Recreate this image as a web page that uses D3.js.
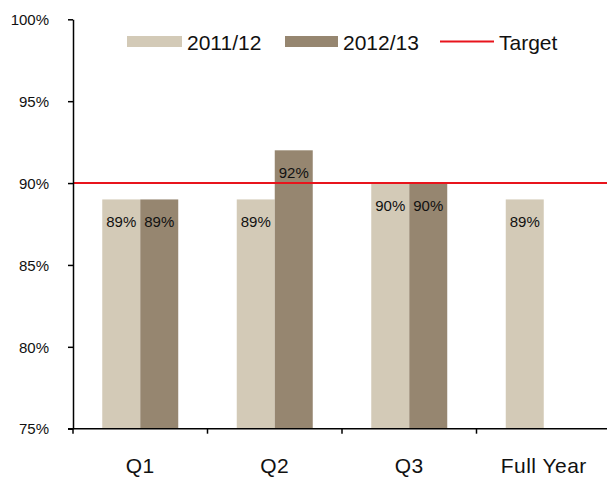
<!DOCTYPE html>
<html>
<head>
<meta charset="utf-8">
<script src="https://cdn.jsdelivr.net/npm/d3@7"></script>
<style>
  html, body { margin: 0; padding: 0; background: #fff; }
  svg { display: block; font-family: "Liberation Sans", Arial, sans-serif; }
</style>
</head>
<body>
<svg id="chart" width="607" height="477"></svg>
<script>
// Quarterly performance against a 90% target
const categories = ["Q1", "Q2", "Q3", "Full Year"];
const seriesNames = ["2011/12", "2012/13"];
const values2011 = [89, 89, 90, 89];
const values2012 = [89, 92, 90, null];
const target = 90;
const yTicks = [75, 80, 85, 90, 95, 100];
const colors = ["#d3cab7", "#968670"];

const svg = d3.select("#chart");
const plotLeft = 73, plotRight = 611, plotTop = 19.3, plotBottom = 428.7;

const x = d3.scaleBand().domain(categories).range([plotLeft, plotRight]).padding(0);
const groupFrac = 0.565;
const gap = x.bandwidth() * (1 - groupFrac) / 2;
const x1 = d3.scaleBand().domain(seriesNames).range([gap, x.bandwidth() - gap]).padding(0);
const y = d3.scaleLinear().domain([75, 100]).range([plotBottom, plotTop]);

const rows = categories.map((c, i) => ({
  cat: c,
  vals: [
    { s: seriesNames[0], v: values2011[i] },
    { s: seriesNames[1], v: values2012[i] }
  ].filter(d => d.v != null)
}));

// Bars
const groups = svg.append("g").selectAll("g").data(rows).join("g")
  .attr("transform", d => `translate(${x(d.cat)},0)`);

groups.selectAll("rect").data(d => d.vals).join("rect")
  .attr("x", d => x1(d.s))
  .attr("width", x1.bandwidth())
  .attr("y", d => y(d.v))
  .attr("height", d => y(75) - y(d.v))
  .attr("fill", d => colors[seriesNames.indexOf(d.s)]);

// Target line
svg.append("line")
  .attr("x1", plotLeft).attr("x2", 607)
  .attr("y1", y(target)).attr("y2", y(target))
  .attr("stroke", "#e8141c").attr("stroke-width", 2);

// Value labels inside the top of each bar
groups.selectAll("text").data(d => d.vals).join("text")
  .attr("x", d => x1(d.s) + x1.bandwidth() / 2)
  .attr("y", d => y(d.v) + 28)
  .attr("text-anchor", "middle")
  .attr("font-size", 15)
  .attr("fill", "#111")
  .text(d => d.v + "%");

// Y axis
const yAxis = svg.append("g").attr("transform", `translate(${plotLeft},0)`)
  .call(d3.axisLeft(y).tickValues(yTicks).tickSize(5).tickSizeOuter(0).tickFormat(d => d + "%"));
yAxis.select(".domain").attr("stroke", "#000").attr("stroke-width", 1.5);
yAxis.selectAll(".tick line").attr("stroke", "#000").attr("stroke-width", 1.5);
yAxis.selectAll(".tick text")
  .attr("x", -24).attr("dy", "0.35em")
  .attr("font-size", 15).attr("fill", "#111")
  .attr("font-family", "Liberation Sans, Arial, sans-serif");

// X axis with ticks at category boundaries
const xAxis = svg.append("g").attr("transform", `translate(0,${plotBottom})`);
xAxis.append("line")
  .attr("x1", plotLeft - 5).attr("x2", plotRight)
  .attr("stroke", "#000").attr("stroke-width", 1.5);
xAxis.selectAll("line.tk").data(categories).join("line")
  .attr("class", "tk")
  .attr("x1", d => x(d)).attr("x2", d => x(d))
  .attr("y1", 0).attr("y2", 5)
  .attr("stroke", "#000").attr("stroke-width", 1.5);
xAxis.selectAll("text").data(categories).join("text")
  .attr("x", d => x(d) + x.bandwidth() / 2)
  .attr("y", 44.5)
  .attr("text-anchor", "middle")
  .attr("font-size", 21)
  .attr("letter-spacing", 0.5)
  .attr("fill", "#111")
  .text(d => d);

// Legend
const legend = svg.append("g");
const legendItems = [
  { label: seriesNames[0], type: "rect", color: colors[0], x0: 127, x1: 182 },
  { label: seriesNames[1], type: "rect", color: colors[1], x0: 285, x1: 338 },
  { label: "Target", type: "line", color: "#e8141c", x0: 440, x1: 494 }
];
legendItems.forEach(d => {
  if (d.type === "rect") {
    legend.append("rect").attr("x", d.x0).attr("y", 36)
      .attr("width", d.x1 - d.x0).attr("height", 11).attr("fill", d.color);
  } else {
    legend.append("line").attr("x1", d.x0).attr("x2", d.x1)
      .attr("y1", 41.5).attr("y2", 41.5)
      .attr("stroke", d.color).attr("stroke-width", 2);
  }
  legend.append("text").attr("x", d.x1 + 5).attr("y", 49.5)
    .attr("font-size", 21).attr("fill", "#111")
    .text(d.label);
});
</script>
</body>
</html>
